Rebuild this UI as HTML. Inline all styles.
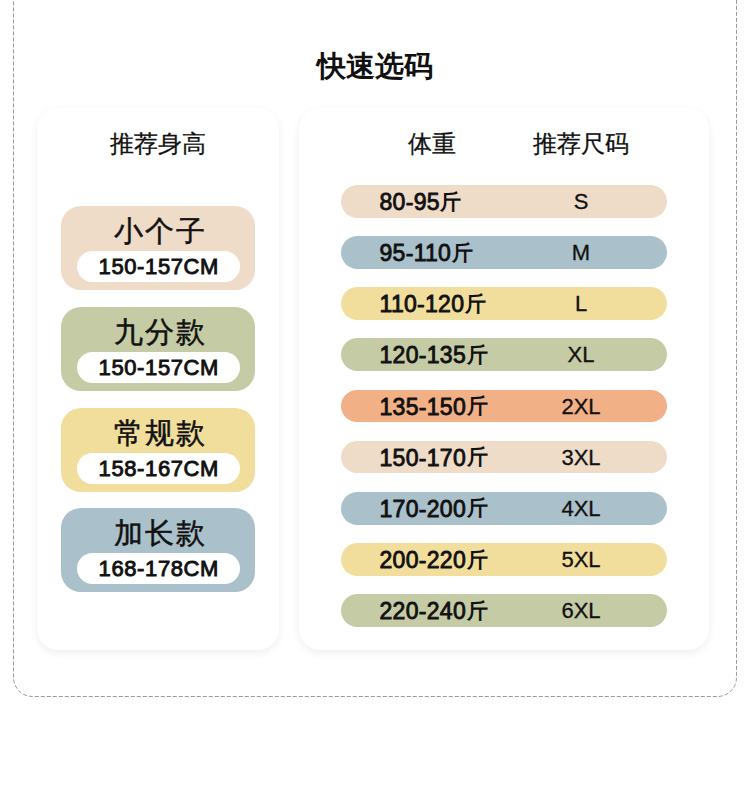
<!DOCTYPE html>
<html><head><meta charset="utf-8"><style>
html,body{margin:0;padding:0;background:#fff;width:750px;height:792px;overflow:hidden;position:relative;font-family:"Liberation Sans",sans-serif;color:#111}
.a{position:absolute}
.title{left:0;width:750px;top:46px;text-align:center;font-size:29px;font-weight:bold;line-height:40px}
.card{background:#fff;border-radius:21px;box-shadow:0 3px 8px rgba(0,0,0,0.065)}
.hd{font-size:24px;line-height:30px;white-space:nowrap;-webkit-text-stroke:0.3px #111}
.box{left:61px;width:194px;height:83.6px;border-radius:20px}
.bt{left:0;width:194px;text-align:center;top:7px;font-size:29px;line-height:36px;-webkit-text-stroke:0.5px #111;letter-spacing:2px;text-indent:4px}
.pill{left:16px;width:163px;height:31px;top:45px;background:#fff;border-radius:16px;text-align:center;font-size:22px;font-weight:normal;-webkit-text-stroke:0.9px #111;line-height:31px;letter-spacing:0.6px;text-indent:0.6px}
.row{left:341px;width:326px;height:32.7px;border-radius:16.5px}
.w{left:38.5px;top:1px;font-size:23px;font-weight:normal;-webkit-text-stroke:0.85px #111;line-height:33px;white-space:nowrap;letter-spacing:0.3px}
.j{font-size:20.5px;font-weight:bold;-webkit-text-stroke:0;letter-spacing:0;position:relative;top:-1.5px;margin-left:0.5px}
.s{left:190px;width:100px;text-align:center;top:0;font-size:22px;line-height:33px;-webkit-text-stroke:0.3px #111}
</style></head><body>
<svg class="a" style="left:0;top:0" width="750" height="792"><rect x="13.5" y="-40" width="723" height="736.5" rx="19" ry="19" fill="none" stroke="#999" stroke-width="1" stroke-dasharray="4 2" stroke-dashoffset="2.5"/></svg>
<div class="a title">快速选码</div>
<div class="a card" style="left:37px;top:108px;width:242px;height:542px"></div>
<div class="a card" style="left:299px;top:108px;width:410px;height:542px"></div>
<div class="a hd" style="left:110px;top:129px">推荐身高</div>
<div class="a hd" style="left:408px;top:129px">体重</div>
<div class="a hd" style="left:533px;top:129px">推荐尺码</div>
<div class="a box" style="top:206.1px;background:#EEDCC8"><div class="a bt">小个子</div><div class="a pill">150-157CM</div></div>
<div class="a box" style="top:307.2px;background:#C5CBA5"><div class="a bt">九分款</div><div class="a pill">150-157CM</div></div>
<div class="a box" style="top:408.0px;background:#F1DE9C"><div class="a bt">常规款</div><div class="a pill">158-167CM</div></div>
<div class="a box" style="top:508.0px;background:#AAC0CA"><div class="a bt">加长款</div><div class="a pill">168-178CM</div></div>
<div class="a row" style="top:185.00px;background:#EEDCC8"><div class="a w">80-95<span class="j">斤</span></div><div class="a s">S</div></div>
<div class="a row" style="top:236.15px;background:#AAC0CA"><div class="a w">95-110<span class="j">斤</span></div><div class="a s">M</div></div>
<div class="a row" style="top:287.30px;background:#F1DE9C"><div class="a w">110-120<span class="j">斤</span></div><div class="a s">L</div></div>
<div class="a row" style="top:338.45px;background:#C5CBA5"><div class="a w">120-135<span class="j">斤</span></div><div class="a s">XL</div></div>
<div class="a row" style="top:389.60px;background:#F2B086"><div class="a w">135-150<span class="j">斤</span></div><div class="a s">2XL</div></div>
<div class="a row" style="top:440.75px;background:#EEDCC8"><div class="a w">150-170<span class="j">斤</span></div><div class="a s">3XL</div></div>
<div class="a row" style="top:491.90px;background:#AAC0CA"><div class="a w">170-200<span class="j">斤</span></div><div class="a s">4XL</div></div>
<div class="a row" style="top:543.05px;background:#F1DE9C"><div class="a w">200-220<span class="j">斤</span></div><div class="a s">5XL</div></div>
<div class="a row" style="top:594.20px;background:#C5CBA5"><div class="a w">220-240<span class="j">斤</span></div><div class="a s">6XL</div></div>
</body></html>
